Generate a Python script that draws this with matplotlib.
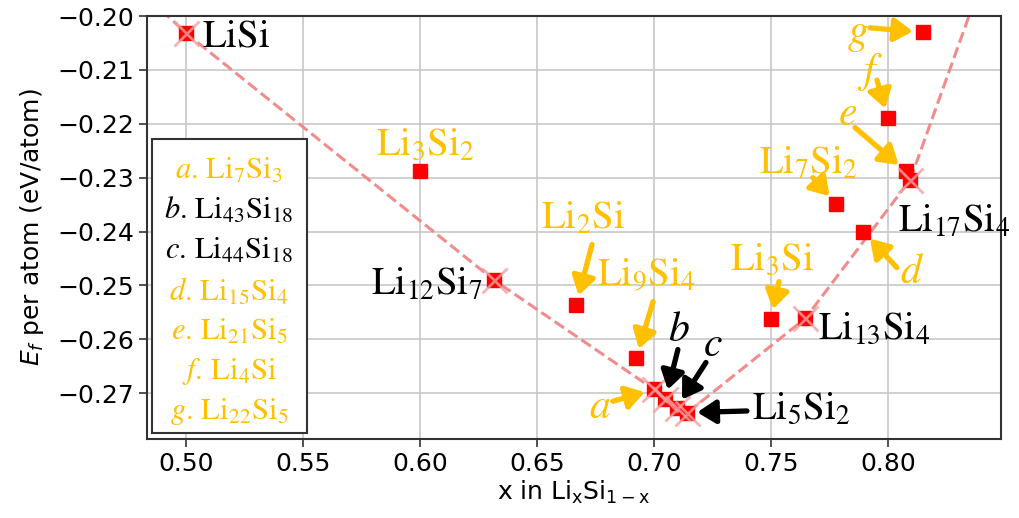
import matplotlib
matplotlib.use("Agg")
import matplotlib.pyplot as plt
from matplotlib.patches import Rectangle

# ---------------- data ----------------
names = ['LiSi', 'Li3Si2', 'Li12Si7', 'Li2Si', 'Li9Si4', 'Li7Si3', 'Li43Si18',
         'Li44Si18', 'Li5Si2', 'Li3Si', 'Li13Si4', 'Li7Si2', 'Li15Si4', 'Li4Si',
         'Li21Si5', 'Li17Si4', 'Li22Si5']
x_li = [0.5, 0.6, 0.6316, 0.6667, 0.6923, 0.7, 0.7049, 0.7097, 0.7143, 0.75,
        0.7647, 0.7778, 0.7895, 0.8, 0.8077, 0.8095, 0.8148]
e_form = [-0.2032, -0.2288, -0.2490, -0.2536, -0.2635, -0.2693, -0.2711, -0.2727,
          -0.2736, -0.2562, -0.2560, -0.2348, -0.2400, -0.2189, -0.2288, -0.2304,
          -0.2030]

# convex hull (end members Si at x=0 and Li at x=1 have E_f = 0)
hull_names = ['Si', 'LiSi', 'Li12Si7', 'Li7Si3', 'Li43Si18', 'Li44Si18', 'Li5Si2',
              'Li13Si4', 'Li17Si4', 'Li']
hull_x = [0.0, 0.5, 0.6316, 0.7, 0.7049, 0.7097, 0.7143, 0.7647, 0.8095, 1.0]
hull_y = [0.0, -0.2032, -0.2490, -0.2693, -0.2711, -0.2727, -0.2736, -0.2561,
          -0.2304, 0.0]

x_ticks = [0.50, 0.55, 0.60, 0.65, 0.70, 0.75, 0.80]
y_ticks = [-0.27, -0.26, -0.25, -0.24, -0.23, -0.22, -0.21, -0.20]

legend_letters = ['a', 'b', 'c', 'd', 'e', 'f', 'g']
legend_formulas = [r'Li_7Si_3', r'Li_{43}Si_{18}', r'Li_{44}Si_{18}', r'Li_{15}Si_4',
                   r'Li_{21}Si_5', r'Li_4Si', r'Li_{22}Si_5']
legend_colors = ['orange', 'black', 'black', 'orange', 'orange', 'orange', 'orange']

ORANGE = '#FFC000'
BLACK = 'black'
cmap = {'orange': ORANGE, 'black': BLACK}

# ---------------- figure ----------------
fig = plt.figure(figsize=(10.19, 5.18), dpi=100)
ax = fig.add_axes([0.1443, 0.1525, 0.8380, 0.8166])

ax.grid(True, color='#c8c8c8', lw=1.2, zorder=0)
ax.set_axisbelow(True)

ax.plot(hull_x, hull_y, ls='--', color='#F08080', lw=2.2, alpha=0.9, zorder=2)
ax.plot(x_li, e_form, ls='none', marker='s', ms=10, color='#FF0000', zorder=3)
ax.plot(hull_x[1:-1], hull_y[1:-1], ls='none', marker='x', ms=18, mew=2,
        color='#F4A0A0', alpha=0.8, zorder=4)

ax.set_xlim(0.4833, 0.8483)
ax.set_ylim(-0.2785, -0.20)
ax.set_xticks(x_ticks)
ax.set_yticks(y_ticks)
ax.set_xticklabels([f'{v:.2f}' for v in x_ticks])
ax.set_yticklabels([f'{v:.2f}'.replace('-', '\u2212') for v in y_ticks])
ax.tick_params(labelsize=18, length=6, width=1.2, color='#333333')
for s in ax.spines.values():
    s.set_color('#333333')
    s.set_linewidth(1.5)

ax.set_xlabel(r'x in Li$_\mathrm{x}$Si$_{\mathrm{1-x}}$', fontsize=18,
              math_fontfamily='dejavusans', labelpad=2)
ax.set_ylabel(r'$E_f$ per atom (eV/atom)', fontsize=18,
              math_fontfamily='dejavusans', labelpad=8)

LBL = 28   # size of compound labels


def label(txt, x, y, color, ha='center', va='center', size=LBL):
    ax.text(x, y, txt, color=color, fontsize=size, ha=ha, va=va,
            math_fontfamily='stix', zorder=6, clip_on=False)


def arrow(tail, head, color):
    ax.annotate('', xy=head, xytext=tail,
                arrowprops=dict(arrowstyle='-|>,head_length=0.55,head_width=0.35',
                                color=color, lw=3.8, mutation_scale=20,
                                shrinkA=0, shrinkB=7),
                zorder=6)


pt = dict(zip(names, zip(x_li, e_form)))

# compound labels
label(r'$\mathrm{LiSi}$', 0.5068, -0.2037, BLACK, ha='left')
label(r'$\mathrm{Li_3Si_2}$', 0.6021, -0.2237, ORANGE)
label(r'$\mathrm{Li_{12}Si_7}$', 0.6269, -0.2496, BLACK, ha='right')
label(r'$\mathrm{Li_2Si}$', 0.6696, -0.2374, ORANGE)
label(r'$\mathrm{Li_9Si_4}$', 0.6966, -0.2481, ORANGE)
label(r'$\mathrm{Li_5Si_2}$', 0.7419, -0.2726, BLACK, ha='left')
label(r'$\mathrm{Li_3Si}$', 0.7504, -0.2450, ORANGE)
label(r'$\mathrm{Li_{13}Si_4}$', 0.7701, -0.2578, BLACK, ha='left')
label(r'$\mathrm{Li_{17}Si_4}$', 0.8042, -0.2380, BLACK, ha='left')
label(r'$\mathrm{Li_7Si_2}$', 0.7658, -0.2272, ORANGE)
label(r'$a$', 0.6769, -0.2724, ORANGE, size=30)
label(r'$b$', 0.7107, -0.2581, BLACK, size=30)
label(r'$c$', 0.7252, -0.2609, BLACK, size=30)
label(r'$d$', 0.8102, -0.2474, ORANGE, size=30)
label(r'$e$', 0.7829, -0.2180, ORANGE, size=30)
label(r'$f$', 0.7923, -0.2104, ORANGE, size=30)
label(r'$g$', 0.7872, -0.2031, ORANGE, size=30)

# arrows (tail -> data point)
arrow((0.6735, -0.2424), pt['Li2Si'], ORANGE)
arrow((0.6996, -0.2530), pt['Li9Si4'], ORANGE)
arrow((0.6824, -0.2715), pt['Li7Si3'], ORANGE)
arrow((0.7102, -0.2619), pt['Li43Si18'], BLACK)
arrow((0.7222, -0.2643), pt['Li44Si18'], BLACK)
arrow((0.7397, -0.2733), pt['Li5Si2'], BLACK)
arrow((0.7534, -0.2493), pt['Li3Si'], ORANGE)
arrow((0.8038, -0.2467), pt['Li15Si4'], ORANGE)
arrow((0.7679, -0.2300), pt['Li7Si2'], ORANGE)
arrow((0.7859, -0.2207), pt['Li21Si5'], ORANGE)
arrow((0.7953, -0.2119), pt['Li4Si'], ORANGE)
arrow((0.7923, -0.2022), pt['Li22Si5'], ORANGE)

# legend-like box
ax.add_patch(Rectangle((0.006, 0.014), 0.181, 0.695, transform=ax.transAxes,
                       facecolor='white', edgecolor='#333333', lw=1.5, zorder=7))
for i, (let, form, col) in enumerate(zip(legend_letters, legend_formulas, legend_colors)):
    ax.text(0.096, 0.636 - i * 0.0953, rf'${let}.\,\mathrm{{{form}}}$',
            transform=ax.transAxes, color=cmap[col], fontsize=22, ha='center',
            va='center', math_fontfamily='stix', zorder=8)

fig.savefig('out.png', dpi=100)
